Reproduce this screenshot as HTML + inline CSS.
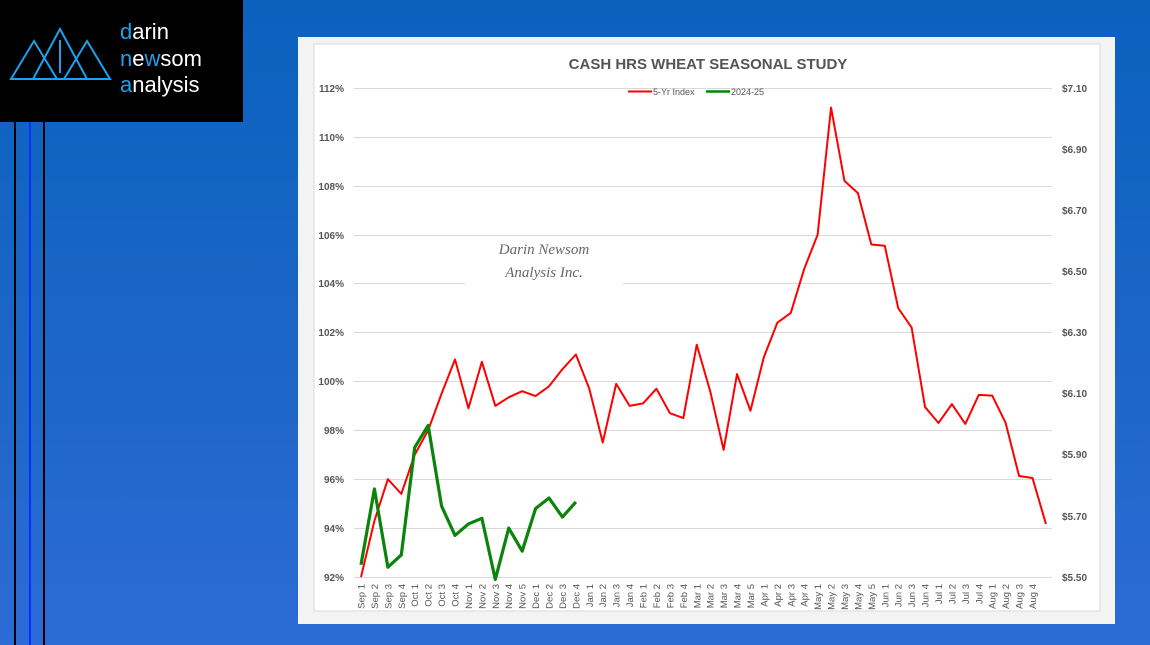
<!DOCTYPE html>
<html><head><meta charset="utf-8"><style>
html,body{margin:0;padding:0;}
body{width:1150px;height:645px;overflow:hidden;background:linear-gradient(180deg,#0a62bd 0%,#1e66c8 60%,#2d6bd6 100%);position:relative;font-family:"Liberation Sans",sans-serif;}
.logo{position:absolute;left:0;top:0;width:243px;height:122px;background:#000;}
.vl{position:absolute;top:122px;height:523px;width:2px;background:#000;}
</style></head><body>
<div class="logo">
<svg width="243" height="122">
<g fill="none" stroke="#1ba1ee" stroke-width="2">
<polygon points="11,79 34,41 57,79"/>
<polygon points="33,79 60,29 87,79"/>
<polygon points="64,79 87,41 110,79"/>
<line x1="60" y1="40" x2="60" y2="73"/>
</g>
<g font-family="Liberation Sans" font-size="22" fill="#fff">
<text x="120" y="39"><tspan fill="#1ba1ee">d</tspan>arin</text>
<text x="120" y="66"><tspan fill="#1ba1ee">n</tspan>e<tspan fill="#1ba1ee">w</tspan>som</text>
<text x="120" y="92"><tspan fill="#1ba1ee">a</tspan>nalysis</text>
</g></svg></div>
<div class="vl" style="left:14px"></div>
<div class="vl" style="left:29px;background:#0033ff"></div>
<div class="vl" style="left:43px"></div>
<svg style="position:absolute;left:0;top:0" width="1150" height="645">
<rect x="298" y="37" width="817" height="587" fill="#f3f3f3"/>
<rect x="314" y="44" width="786" height="567" fill="#fff" stroke="#d9d9d9"/>
<text x="708" y="69" text-anchor="middle" font-size="15" font-weight="bold" fill="#555">CASH HRS WHEAT SEASONAL STUDY</text>
<g stroke="#d9d9d9" stroke-width="1">
<line x1="354" x2="1052" y1="88.5" y2="88.5"/><line x1="354" x2="1052" y1="137.5" y2="137.5"/>
<line x1="354" x2="1052" y1="186.5" y2="186.5"/><line x1="354" x2="1052" y1="235.5" y2="235.5"/>
<line x1="354" x2="1052" y1="283.5" y2="283.5"/><line x1="354" x2="1052" y1="332.5" y2="332.5"/>
<line x1="354" x2="1052" y1="381.5" y2="381.5"/><line x1="354" x2="1052" y1="430.5" y2="430.5"/>
<line x1="354" x2="1052" y1="479.5" y2="479.5"/><line x1="354" x2="1052" y1="528.5" y2="528.5"/>
<line x1="354" x2="1052" y1="577.5" y2="577.5"/>
</g>
<g font-size="10" font-weight="bold" fill="#555" text-anchor="end">
<text x="344" y="92">112%</text><text x="344" y="141">110%</text><text x="344" y="190">108%</text>
<text x="344" y="239">106%</text><text x="344" y="287">104%</text><text x="344" y="336">102%</text>
<text x="344" y="385">100%</text><text x="344" y="434">98%</text><text x="344" y="483">96%</text>
<text x="344" y="532">94%</text><text x="344" y="581">92%</text>
</g>
<g font-size="10" font-weight="bold" fill="#555">
<text x="1062" y="92">$7.10</text><text x="1062" y="153">$6.90</text><text x="1062" y="214">$6.70</text>
<text x="1062" y="275">$6.50</text><text x="1062" y="336">$6.30</text><text x="1062" y="397">$6.10</text>
<text x="1062" y="458">$5.90</text><text x="1062" y="520">$5.70</text><text x="1062" y="581">$5.50</text>
</g>
<line x1="628" x2="652" y1="91.5" y2="91.5" stroke="#f00" stroke-width="2"/>
<text x="653" y="95" font-size="9" fill="#555">5-Yr Index</text>
<line x1="706" x2="730" y1="91.5" y2="91.5" stroke="#080" stroke-width="2.5"/>
<text x="731" y="95" font-size="9" fill="#555">2024-25</text>
<rect x="465" y="237" width="158" height="52" fill="#fff"/>
<text x="544" y="254" text-anchor="middle" font-family="Liberation Serif" font-style="italic" font-size="15" fill="#666">Darin Newsom</text>
<text x="544" y="277" text-anchor="middle" font-family="Liberation Serif" font-style="italic" font-size="15" fill="#666">Analysis Inc.</text>
<g transform="translate(361,577) scale(13.43,-24.45) translate(0,-92)" fill="none" stroke-linejoin="round">
<polyline vector-effect="non-scaling-stroke" stroke="#f00" stroke-width="2" points="0,92 1,94.3 2,96 3,95.4 4,97 5,98 6,99.5 7,100.9 8,98.9 9,100.8 10,99 11,99.35 12,99.6 13,99.4 14,99.8 15,100.5 16,101.1 17,99.7 18,97.5 19,99.9 20,99 21,99.1 22,99.7 23,98.7 24,98.5 25,101.5 26,99.6 27,97.2 28,100.3 29,98.8 30,101 31,102.4 32,102.8 33,104.6 34,106 35,111.2 36,108.2 37,107.7 38,105.6 39,105.55 40,103 41,102.2 42,98.95 43,98.3 44,99.07 45,98.26 46,99.45 47,99.42 48,98.3 49,96.13 50,96.05 51,94.17"/>
<polyline vector-effect="non-scaling-stroke" stroke="#0a840a" stroke-width="3.2" points="0,92.5 1,95.6 2,92.4 3,92.9 4,97.3 5,98.2 6,94.9 7,93.7 8,94.17 9,94.4 10,91.9 11,94 12,93.06 13,94.8 14,95.23 15,94.45 16,95.07"/>
</g>
<g font-size="9.5" fill="#555" text-anchor="end">
<text transform="translate(364.5,584) rotate(-90)">Sep 1</text>
<text transform="translate(377.9,584) rotate(-90)">Sep 2</text>
<text transform="translate(391.4,584) rotate(-90)">Sep 3</text>
<text transform="translate(404.8,584) rotate(-90)">Sep 4</text>
<text transform="translate(418.2,584) rotate(-90)">Oct 1</text>
<text transform="translate(431.7,584) rotate(-90)">Oct 2</text>
<text transform="translate(445.1,584) rotate(-90)">Oct 3</text>
<text transform="translate(458.5,584) rotate(-90)">Oct 4</text>
<text transform="translate(471.9,584) rotate(-90)">Nov 1</text>
<text transform="translate(485.4,584) rotate(-90)">Nov 2</text>
<text transform="translate(498.8,584) rotate(-90)">Nov 3</text>
<text transform="translate(512.2,584) rotate(-90)">Nov 4</text>
<text transform="translate(525.7,584) rotate(-90)">Nov 5</text>
<text transform="translate(539.1,584) rotate(-90)">Dec 1</text>
<text transform="translate(552.5,584) rotate(-90)">Dec 2</text>
<text transform="translate(566,584) rotate(-90)">Dec 3</text>
<text transform="translate(579.4,584) rotate(-90)">Dec 4</text>
<text transform="translate(592.8,584) rotate(-90)">Jan 1</text>
<text transform="translate(606.2,584) rotate(-90)">Jan 2</text>
<text transform="translate(619.7,584) rotate(-90)">Jan 3</text>
<text transform="translate(633.1,584) rotate(-90)">Jan 4</text>
<text transform="translate(646.5,584) rotate(-90)">Feb 1</text>
<text transform="translate(660,584) rotate(-90)">Feb 2</text>
<text transform="translate(673.4,584) rotate(-90)">Feb 3</text>
<text transform="translate(686.8,584) rotate(-90)">Feb 4</text>
<text transform="translate(700.3,584) rotate(-90)">Mar 1</text>
<text transform="translate(713.7,584) rotate(-90)">Mar 2</text>
<text transform="translate(727.1,584) rotate(-90)">Mar 3</text>
<text transform="translate(740.5,584) rotate(-90)">Mar 4</text>
<text transform="translate(754,584) rotate(-90)">Mar 5</text>
<text transform="translate(767.4,584) rotate(-90)">Apr 1</text>
<text transform="translate(780.8,584) rotate(-90)">Apr 2</text>
<text transform="translate(794.3,584) rotate(-90)">Apr 3</text>
<text transform="translate(807.7,584) rotate(-90)">Apr 4</text>
<text transform="translate(821.1,584) rotate(-90)">May 1</text>
<text transform="translate(834.5,584) rotate(-90)">May 2</text>
<text transform="translate(848,584) rotate(-90)">May 3</text>
<text transform="translate(861.4,584) rotate(-90)">May 4</text>
<text transform="translate(874.8,584) rotate(-90)">May 5</text>
<text transform="translate(888.3,584) rotate(-90)">Jun 1</text>
<text transform="translate(901.7,584) rotate(-90)">Jun 2</text>
<text transform="translate(915.1,584) rotate(-90)">Jun 3</text>
<text transform="translate(928.6,584) rotate(-90)">Jun 4</text>
<text transform="translate(942,584) rotate(-90)">Jul 1</text>
<text transform="translate(955.4,584) rotate(-90)">Jul 2</text>
<text transform="translate(968.8,584) rotate(-90)">Jul 3</text>
<text transform="translate(982.3,584) rotate(-90)">Jul 4</text>
<text transform="translate(995.7,584) rotate(-90)">Aug 1</text>
<text transform="translate(1009.1,584) rotate(-90)">Aug 2</text>
<text transform="translate(1022.6,584) rotate(-90)">Aug 3</text>
<text transform="translate(1036,584) rotate(-90)">Aug 4</text>
</g>
</svg>
</body></html>
